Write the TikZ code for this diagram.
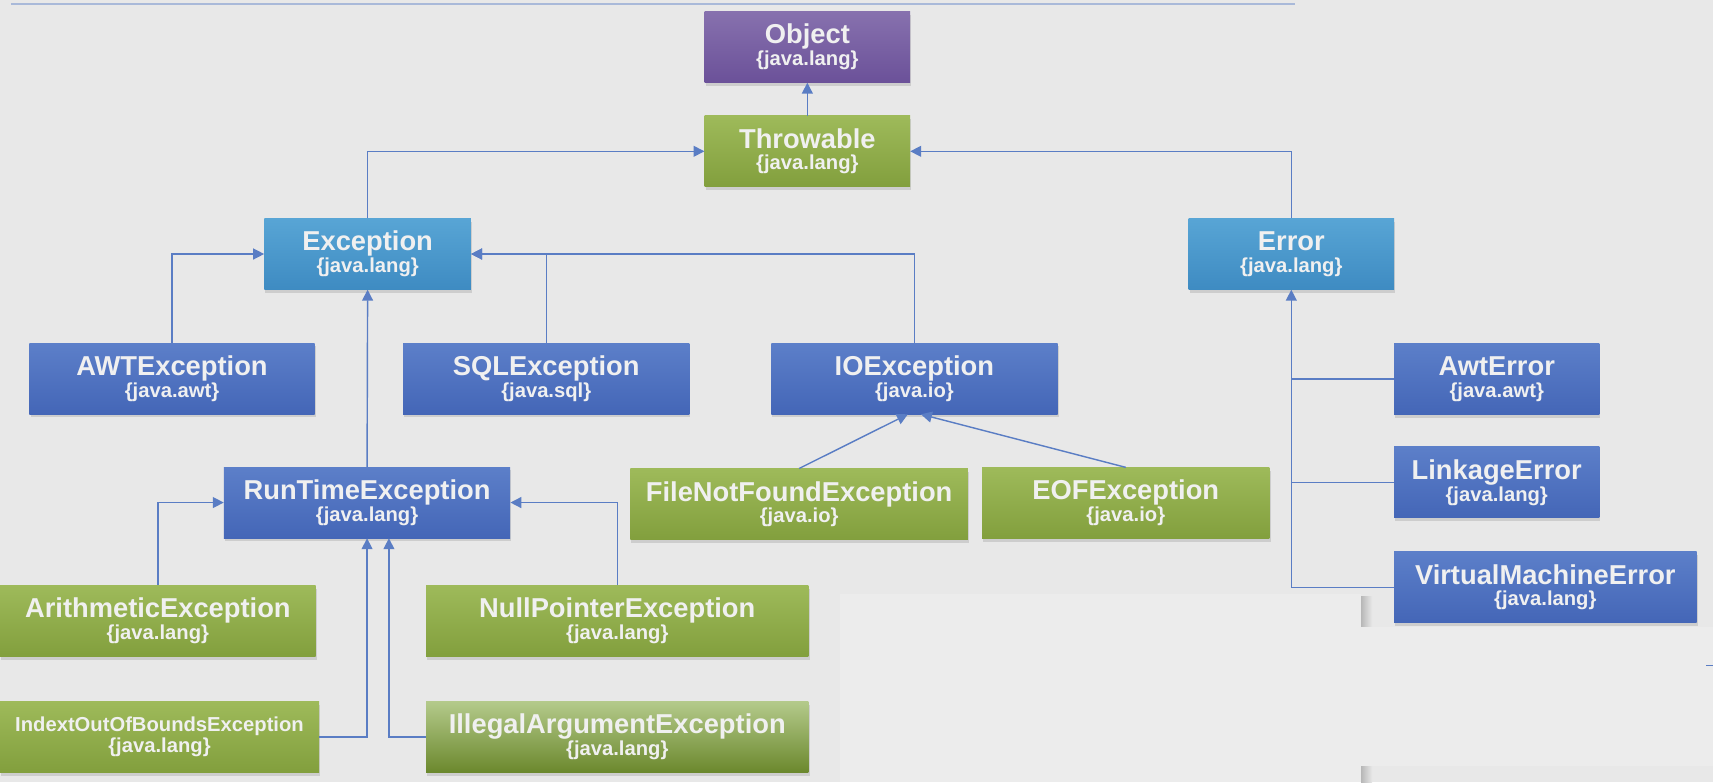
\documentclass[tikz,border=0pt]{standalone}
\usepackage{fontspec}
\setmainfont{Liberation Sans}
\usetikzlibrary{arrows.meta,shadows}
\definecolor{bgc}{HTML}{E8E8E8}
\definecolor{panelc}{HTML}{ECECEC}
\definecolor{shadc}{HTML}{B8B8B8}
\definecolor{linec}{HTML}{5A7DC4}
\definecolor{rulec}{HTML}{A9B9D9}
\definecolor{txtc}{HTML}{F0F0F0}
\definecolor{purT}{HTML}{8771AE}
\definecolor{purB}{HTML}{6B5199}
\definecolor{grnT}{HTML}{9EBA5A}
\definecolor{grnB}{HTML}{829F3D}
\definecolor{ltbT}{HTML}{58A5D5}
\definecolor{ltbB}{HTML}{3E8BC2}
\definecolor{bluT}{HTML}{5C7FC9}
\definecolor{bluB}{HTML}{4466B7}
\definecolor{iaT}{HTML}{B4CA8B}
\definecolor{iaM}{HTML}{8EA94A}
\definecolor{iaB}{HTML}{6B882D}
\newcommand\clsname[1]{{\fontsize{25}{20}\selectfont #1}}
\begin{document}
\begin{tikzpicture}[x=1pt,y=-1pt,
  cls/.style={rectangle, inner sep=0pt, align=center, text=txtc,
    minimum height=65pt,
    font=\bfseries\fontsize{18.5}{20}\selectfont,
    drop shadow={shadow xshift=1pt, shadow yshift=-3pt, opacity=0.25}},
  purbox/.style={cls, top color=purT, bottom color=purB},
  grnbox/.style={cls, top color=grnT, bottom color=grnB},
  ltbbox/.style={cls, top color=ltbT, bottom color=ltbB},
  blubox/.style={cls, top color=bluT, bottom color=bluB},
  iabox/.style={cls, top color=iaT, middle color=iaM, bottom color=iaB},
  conn/.style={draw=linec, line width=1.3pt, -{Triangle[length=10pt,width=10pt]}},
  plain/.style={draw=linec, line width=1.3pt}]

\useasboundingbox (0,0) rectangle (1568,716);
\fill[bgc] (0,0) rectangle (1568,716);
\draw[rulec, line width=2pt] (10,4) -- (1185,4);

% lighter panel at the bottom
\shade[left color=shadc, right color=bgc] (1246,546) rectangle (1256,716);
\fill[panelc] (769,544) rectangle (1246,716);
\fill[panelc] (1246,574) rectangle (1568,701);
\draw[linec] (1562,609) -- (1568,609);

% nodes
\node[purbox, minimum width=188pt] (obj) at (739,43) {\clsname{Object}\\\{java.lang\}};
\node[grnbox, minimum width=188pt] (thr) at (739,138.5) {\clsname{Throwable}\\\{java.lang\}};
\node[ltbbox, minimum width=189pt] (exc) at (336.5,232.5) {\clsname{Exception}\\\{java.lang\}};
\node[ltbbox, minimum width=188pt] (err) at (1182,232.5) {\clsname{Error}\\\{java.lang\}};
\node[blubox, minimum width=261pt] (awt) at (157.5,346.5) {\clsname{AWTException}\\\{java.awt\}};
\node[blubox, minimum width=262pt] (sql) at (500,346.5) {\clsname{SQLException}\\\{java.sql\}};
\node[blubox, minimum width=262pt] (io) at (837,346.5) {\clsname{IOException}\\\{java.io\}};
\node[blubox, minimum width=188pt] (awte) at (1370,347) {\clsname{AwtError}\\\{java.awt\}};
\node[blubox, minimum width=188pt] (link) at (1370,441.5) {\clsname{LinkageError}\\\{java.lang\}};
\node[blubox, minimum width=277pt] (vme) at (1414.5,537.5) {\clsname{VirtualMachineError}\\\{java.lang\}};
\node[blubox, minimum width=262pt] (rte) at (336,460) {\clsname{RunTimeException}\\\{java.lang\}};
\node[grnbox, minimum width=309pt] (fnf) at (731.5,461.5) {\clsname{FileNotFoundException}\\\{java.io\}};
\node[grnbox, minimum width=263pt] (eof) at (1030.5,460.5) {\clsname{EOFException}\\\{java.io\}};
\node[grnbox, minimum width=289pt] (arith) at (144.5,568.5) {\clsname{ArithmeticException}\\\{java.lang\}};
\node[grnbox, minimum width=350pt] (np) at (565,568.5) {\clsname{NullPointerException}\\\{java.lang\}};
\node[grnbox, minimum width=292pt] (ioob) at (146,674.5) {{\fontsize{18.5}{20}\selectfont IndextOutOfBoundsException}\\\{java.lang\}};
\node[iabox, minimum width=350pt] (ia) at (565,674.5) {\clsname{IllegalArgumentException}\\\{java.lang\}};

% connectors
\draw[conn] (thr) -- (obj);
\draw[conn] (exc.north) |- (thr.west);
\draw[conn] (err.north) |- (thr.east);
\draw[conn] (awt.north) |- (exc.west);
\draw[conn] (sql.north) |- (exc.east);
\draw[conn] (io.north) |- (exc.east);
\draw[conn] (rte.north) -- (exc.south);
\draw[conn] (fnf.north) -- ([xshift=-6pt]io.south);
\draw[conn] (eof.north) -- ([xshift=6pt]io.south);
\draw[conn] (vme.west) -| (err.south);
\draw[plain] (awte.west) -- (awte.west -| err.south);
\draw[plain] (link.west) -- (link.west -| err.south);
\draw[conn] (arith.north) |- (rte.west);
\draw[conn] (np.north) |- (rte.east);
\draw[conn] (ioob.east) -| (rte.south);
\draw[conn] (ia.west) -| ([xshift=20pt]rte.south);
\end{tikzpicture}
\end{document}
